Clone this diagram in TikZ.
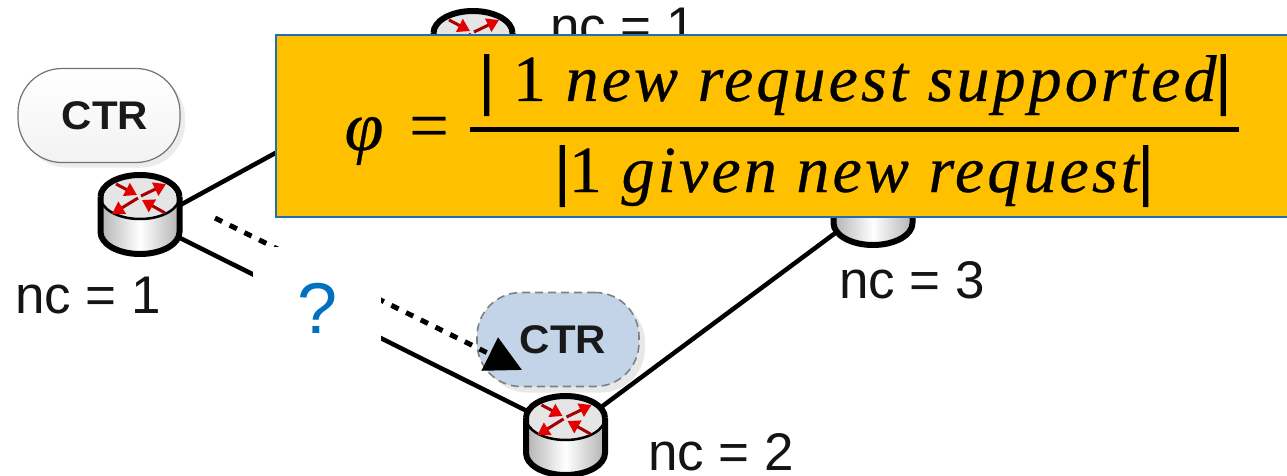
\documentclass[tikz,border=0pt]{standalone}
\usepackage{fontspec}
\setmainfont{Liberation Sans}
\newfontfamily\ctrfont[FakeStretch=1.05]{Liberation Sans}
\newfontfamily\mathfont[LetterSpace=4.7,FakeBold=0.4]{Liberation Serif}
\newfontfamily\barfont[FakeBold=3]{Liberation Serif}
\newcommand{\vbar}{{\barfont|}}
\usetikzlibrary{arrows.meta,shadows,shadings}
\definecolor{boxorange}{HTML}{FFC000}
\definecolor{boxline}{HTML}{1F6FB2}
\definecolor{qblue}{HTML}{0070C0}
\definecolor{ctrblue}{HTML}{C3D4E8}
\tikzset{
  link/.style={line width=4.5pt,black},
  pill/.style={rounded corners=44pt,minimum width=162pt,minimum height=94pt,inner sep=0pt,
    font=\ctrfont\fontsize{40}{44}\bfseries\selectfont,text=black!90},
  nclabel/.style={anchor=base west,inner sep=0pt,font=\fontsize{53}{56}\selectfont,text=black!92},
  fracline/.style={anchor=base,inner sep=0pt,font=\mathfont\fontsize{66}{70}\selectfont},
  redarrow/.style={line width=3pt,draw=red!65!black,-{Triangle[length=12pt,width=14pt,fill=red!90!black,color=red!90!black]}},
  pics/routerpic/.style={code={
    \path[left color=black!30,right color=black!30,middle color=white]
      (-39.5pt,0pt) -- (-39.5pt,-35pt) arc[start angle=180,end angle=360,x radius=39.5pt,y radius=22pt]
      -- (39.5pt,0pt) -- cycle;
    \fill[black!10] (0,0) ellipse[x radius=39.5pt,y radius=22pt];
    \draw[line width=6pt,line join=round]
      (-39.5pt,0pt) -- (-39.5pt,-35pt) arc[start angle=180,end angle=360,x radius=39.5pt,y radius=22pt]
      -- (39.5pt,0pt);
    \draw[line width=6pt] (-39.5pt,0pt) arc[start angle=180,end angle=0,x radius=39.5pt,y radius=22pt];
    \draw[line width=2.5pt] (-39.5pt,0pt) arc[start angle=180,end angle=360,x radius=39.5pt,y radius=22pt];
    \draw[redarrow] (-24pt,13pt) -- (-3pt,2pt);
    \draw[redarrow] (25pt,-16pt) -- (2pt,-3pt);
    \draw[redarrow] (1pt,1pt) -- (26pt,13pt);
    \draw[redarrow] (-2pt,-1pt) -- (-28pt,-17pt);
  }}
}
\begin{document}
\begin{tikzpicture}[x=1pt,y=-1pt]
\useasboundingbox (0,0) rectangle (1287,476);
% named ends of the links
\coordinate (r1up) at (140,227);
\coordinate (r1dn) at (140,218);
\coordinate (r2in) at (565,430);
\coordinate (r2out) at (565,434);
\coordinate (r3in) at (873,205);
\coordinate (r0in) at (473,45);
\coordinate (dotstart) at (215,218);
\coordinate (dotend) at (522,370);
% links
\draw[link] (r1up) -- (r0in);
\draw[link] (r1dn) -- (r2in);
\draw[link] (r2out) -- (r3in);
% routers
\pic at (473,33) {routerpic};
\pic at (140,197) {routerpic};
\pic at (565.5,418) {routerpic};
\pic at (873,188) {routerpic};
% controllers
\node[pill,draw=black!55,line width=1.2pt,top color=white,bottom color=black!5,
  drop shadow={shadow xshift=5pt,shadow yshift=-5pt,fill=black!12,opacity=.6}]
  (ctra) at (99,115.5) {\hspace{12pt}CTR};
\node[pill,fill=ctrblue,draw=black!50,line width=1.6pt,dash pattern=on 8pt off 5pt,
  drop shadow={shadow xshift=6pt,shadow yshift=-6pt,fill=black!15,opacity=.6,solid}]
  (ctrb) at (558,339.5) {\hspace{10pt}CTR};
% dotted migration arrow
\draw[line width=5pt,dash pattern=on 8pt off 8.4pt,-{Triangle[length=36pt,width=36pt]}] (dotstart) -- (dotend);
% labels
\node[nclabel] (nca) at (15,313) {nc = 1};
\node[nclabel] (ncb) at (648,470) {nc = 2};
\node[nclabel] (ncc) at (839,298) {nc = 3};
\node[nclabel] (ncd) at (550,45) {nc = 1};
% question mark patch
\node[fill=white,minimum width=128pt,minimum height=103pt,inner sep=0pt,
  font=\fontsize{72}{76}\selectfont,text=qblue] (qm) at (317,298.5) {\raisebox{-34.5pt}[0pt][0pt]{\hspace{2pt}?}};
% formula box
\node[fill=boxorange,draw=boxline,line width=2pt,minimum width=1020pt,minimum height=182pt,
  anchor=north west,inner sep=0pt] (formula) at (275,34) {};
\node[anchor=base,inner sep=0pt,font=\mathfont\itshape\fontsize{70}{74}\selectfont] (phi) at (364,150) {φ};
\node[anchor=base,inner sep=0pt,font=\mathfont\fontsize{70}{74}\selectfont] (eq) at (429,149) {=};
\coordinate (barl) at (470,130);
\coordinate (barr) at (1239,130);
\draw[line width=5pt] (barl) -- (barr);
\node[fracline] (num) at (855,101) {\vbar{} 1 \itshape new request supported\upshape\vbar};
\node[fracline] (den) at (854,192) {\vbar 1 \itshape given new request\upshape\vbar};
\end{tikzpicture}
\end{document}
